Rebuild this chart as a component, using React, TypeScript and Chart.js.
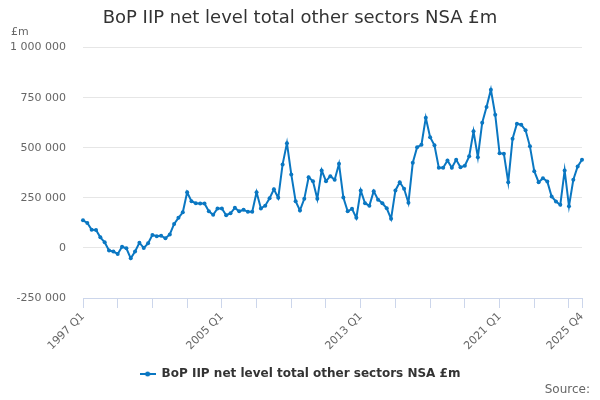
import React, { useEffect, useRef } from "react";
import { Chart, registerables } from "chart.js";

Chart.register(...registerables);

const TITLE = "BoP IIP net level total other sectors NSA £m";
const SERIES_NAME = "BoP IIP net level total other sectors NSA £m";
const UNIT_LABEL = "£m";
const SOURCE_LABEL = "Source:";

const START_YEAR = 1997;
const END_YEAR = 2025;
const QUARTERS = ["Q1", "Q2", "Q3", "Q4"];

const categories: string[] = [];
for (let y = START_YEAR; y <= END_YEAR; y++) {
  for (const q of QUARTERS) categories.push(`${y} ${q}`);
}

const labelledCategories = ["1997 Q1", "2005 Q1", "2013 Q1", "2021 Q1", "2025 Q4"];

const values: number[] = [
  138000, 125000, 91000, 90000, 53000, 28000, -13000, -18000,
  -30000, 6000, -2000, -52000, -18000, 26000, 0, 23000,
  65000, 58000, 61000, 48000, 67000, 120000, 150000, 178000,
  278000, 233000, 223000, 222000, 222000, 183000, 165000, 197000,
  197000, 163000, 173000, 200000, 183000, 190000, 180000, 181000,
  278000, 197000, 211000, 248000, 293000, 250000, 417000, 523000,
  367000, 233000, 187000, 245000, 353000, 333000, 245000, 387000,
  333000, 358000, 340000, 420000, 252000, 183000, 195000, 150000,
  287000, 223000, 211000, 283000, 241000, 223000, 198000, 145000,
  287000, 328000, 295000, 225000, 425000, 503000, 515000, 650000,
  553000, 512000, 400000, 400000, 437000, 400000, 440000, 403000,
  410000, 457000, 582000, 453000, 625000, 703000, 790000, 665000,
  473000, 470000, 328000, 545000, 620000, 615000, 587000, 507000,
  383000, 328000, 348000, 332000, 257000, 232000, 215000, 387000,
  208000, 340000, 407000, 440000,
];

const Y_MIN = -250000;
const Y_MAX = 1000000;
const Y_STEP = 250000;

const LINE_COLOR = "#0a77c2";
const FONT = "'DejaVu Sans', sans-serif";

function fmt(v: number): string {
  const s = Math.abs(v).toString().replace(/\B(?=(\d{3})+(?!\d))/g, " ");
  return (v < 0 ? "-" : "") + s;
}

function legendSymbol(): HTMLCanvasElement {
  const c = document.createElement("canvas");
  c.width = 16;
  c.height = 6;
  const ctx = c.getContext("2d")!;
  ctx.strokeStyle = LINE_COLOR;
  ctx.lineWidth = 2;
  ctx.beginPath();
  ctx.moveTo(0, 3);
  ctx.lineTo(16, 3);
  ctx.stroke();
  ctx.fillStyle = LINE_COLOR;
  ctx.beginPath();
  ctx.arc(8, 3, 2.5, 0, Math.PI * 2);
  ctx.fill();
  return c;
}

const extraText = {
  id: "extraText",
  afterDraw(chart: any) {
    const ctx = chart.ctx;
    ctx.save();
    ctx.fillStyle = "#666666";
    ctx.font = `11px ${FONT}`;
    ctx.textBaseline = "middle";
    ctx.textAlign = "left";
    ctx.fillText(UNIT_LABEL, 11, 32);
    ctx.font = `12px ${FONT}`;
    ctx.textAlign = "right";
    ctx.fillText(SOURCE_LABEL, 590, 390);
    ctx.restore();
  },
};

export default function App() {
  const ref = useRef<HTMLCanvasElement | null>(null);

  useEffect(() => {
    if (!ref.current) return;
    const lastIdx = categories.length - 1;
    const chart = new Chart(ref.current, {
      type: "line",
      data: {
        labels: categories,
        datasets: [
          {
            label: SERIES_NAME,
            data: values,
            borderColor: LINE_COLOR,
            backgroundColor: LINE_COLOR,
            borderWidth: 2,
            pointRadius: 2,
            pointHoverRadius: 3,
            pointBackgroundColor: LINE_COLOR,
            pointBorderWidth: 0,
            tension: 0,
            yAxisID: "y",
          },
        ],
      },
      options: {
        responsive: false,
        animation: false,
        layout: { padding: { left: 0, right: 0, top: 0, bottom: 10 } },
        plugins: {
          title: {
            display: true,
            text: TITLE,
            color: "#333333",
            font: { family: FONT, size: 18, weight: "normal" },
            padding: { top: 8, bottom: 18 },
          },
          legend: {
            position: "bottom",
            labels: {
              color: "#333333",
              font: { family: FONT, size: 12, weight: "bold" },
              usePointStyle: true,
              pointStyle: legendSymbol() as any,
              pointStyleWidth: 16,
              padding: 10,
            },
          },
          tooltip: { enabled: false },
        },
        scales: {
          x: {
            offset: false,
            grid: {
              display: true,
              drawOnChartArea: false,
              drawTicks: true,
              tickLength: 10,
              color: (ctx: any) =>
                ctx.index % 8 === 0 || ctx.index === lastIdx ? "#ccd6eb" : "rgba(0,0,0,0)",
            },
            border: { display: true, color: "#ccd6eb", width: 1 },
            ticks: {
              autoSkip: false,
              minRotation: 45,
              maxRotation: 45,
              color: "#666666",
              font: { family: FONT, size: 11 },
              padding: 2,
              callback: (_v: any, i: number) =>
                labelledCategories.includes(categories[i]) ? categories[i] : "",
            },
            afterFit: (scale: any) => {
              scale.height = 60;
            },
          },
          y: {
            position: "left",
            min: Y_MIN,
            max: Y_MAX,
            grid: { color: "#e6e6e6", drawTicks: false },
            border: { display: false },
            ticks: {
              stepSize: Y_STEP,
              color: "#666666",
              font: { family: FONT, size: 11 },
              padding: 17,
              callback: (v: any) => fmt(Number(v)),
            },
            afterFit: (scale: any) => {
              scale.width = 83;
            },
          },
          yRight: {
            type: "linear",
            position: "right",
            display: true,
            grid: { display: false, drawTicks: false },
            border: { display: false },
            ticks: { display: false },
            afterFit: (scale: any) => {
              scale.width = 18;
            },
          },
        },
      },
      plugins: [extraText],
    });
    return () => chart.destroy();
  }, []);

  return (
    <div style={{ position: "absolute", left: 0, top: 0, width: 600, height: 400, background: "#fff" }}>
      <canvas ref={ref} width={600} height={400} />
    </div>
  );
}
